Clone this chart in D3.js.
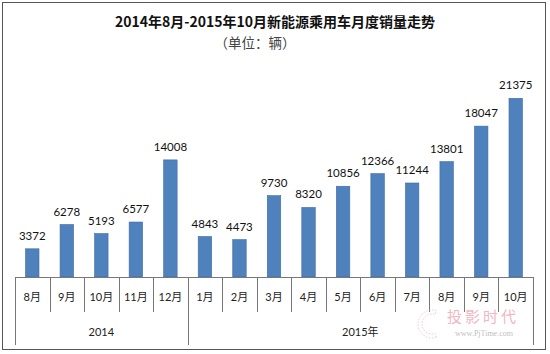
<!DOCTYPE html>
<html>
<head>
<meta charset="utf-8">
<script src="https://cdn.jsdelivr.net/npm/d3@7"></script>
<style>
  body { margin: 0; background: #fff; }
  svg text { font-family: Lato, "Noto Sans CJK SC", sans-serif; }
</style>
</head>
<body>
<svg id="chart" width="550" height="354"></svg>
<script>
// données
const months = ['8月', '9月', '10月', '11月', '12月', '1月', '2月', '3月', '4月', '5月', '6月', '7月', '8月', '9月', '10月'];
const sales = [3372, 6278, 5193, 6577, 14008, 4843, 4473, 9730, 8320, 10856, 12366, 11244, 13801, 18047, 21375];
const years = [
    { label: '2014', from: 0, to: 4 },
    { label: '2015年', from: 5, to: 14 }
];

const svg = d3.select('#chart');

// cadre du graphique
svg.append('rect')
   .attr('x', 2.5).attr('y', 2.5)
   .attr('width', 543).attr('height', 347)
   .attr('fill', '#fff')
   .attr('stroke', '#555')
   .attr('stroke-width', 1);

// titres
svg.append('text')
   .attr('x', 275).attr('y', 27)
   .attr('text-anchor', 'middle')
   .style('font-family', '"Noto Sans CJK SC", sans-serif')
   .style('font-size', '14px')
   .style('font-weight', 'bold')
   .attr('fill', '#111')
   .text('2014年8月-2015年10月新能源乘用车月度销量走势');

svg.append('text')
   .attr('x', 255).attr('y', 48)
   .attr('text-anchor', 'middle')
   .style('font-family', '"Noto Sans CJK SC", sans-serif')
   .style('font-size', '13.5px')
   .attr('fill', '#444')
   .text('（单位：辆）');

const x = d3.scaleBand()
            .domain(d3.range(months.length))
            .range([15, 533])
            .padding(0);

const y = d3.scaleLinear()
            .domain([0, 25000])
            .range([277, 68]);

const barW = x.bandwidth() * 0.39;

// barres
svg.append('g')
   .selectAll('rect')
   .data(sales)
   .join('rect')
   .attr('x', (d, i) => x(i) + (x.bandwidth() - barW) / 2)
   .attr('y', d => y(d))
   .attr('width', barW)
   .attr('height', d => y(0) - y(d))
   .attr('fill', '#4f81bd')
   .attr('stroke', '#3d6ca3')
   .attr('stroke-width', 0.6);

// étiquettes de valeurs
svg.append('g')
   .selectAll('text')
   .data(sales)
   .join('text')
   .attr('x', (d, i) => x(i) + x.bandwidth() / 2)
   .attr('y', d => y(d) - 9)
   .attr('text-anchor', 'middle')
   .style('font-size', '11.5px')
   .attr('fill', '#111')
   .text(d => d);

// axe horizontal
const axis = svg.append('g').attr('stroke', '#777').attr('stroke-width', 1);
axis.append('line')
    .attr('x1', 15).attr('x2', 533)
    .attr('y1', 277.5).attr('y2', 277.5);

// séparateurs des mois
const bounds = d3.range(months.length + 1).map(i => i < months.length ? x(i) : x(i - 1) + x.bandwidth());
axis.selectAll('line.tick')
    .data(bounds)
    .join('line')
    .attr('class', 'tick')
    .attr('x1', d => Math.round(d) + 0.5).attr('x2', d => Math.round(d) + 0.5)
    .attr('y1', 277).attr('y2', 312);

// séparateurs des années
const yearBounds = [0, 5, 15];
axis.selectAll('line.year')
    .data(yearBounds)
    .join('line')
    .attr('class', 'year')
    .attr('x1', d => Math.round(bounds[d]) + 0.5).attr('x2', d => Math.round(bounds[d]) + 0.5)
    .attr('y1', 277).attr('y2', 345);

// libellés des mois
svg.append('g')
   .selectAll('text')
   .data(months)
   .join('text')
   .attr('x', (d, i) => x(i) + x.bandwidth() / 2)
   .attr('y', 301)
   .attr('text-anchor', 'middle')
   .style('font-size', '11px')
   .attr('fill', '#222')
   .text(d => d);

// libellés des années
svg.append('g')
   .selectAll('text')
   .data(years)
   .join('text')
   .attr('x', d => (bounds[d.from] + bounds[d.to + 1]) / 2)
   .attr('y', 336)
   .attr('text-anchor', 'middle')
   .style('font-size', '11px')
   .attr('fill', '#222')
   .text(d => d.label);

// filigrane
const wm = svg.append('g').attr('opacity', 0.75);
wm.append('path')
  .attr('d', d3.arc()({ innerRadius: 10, outerRadius: 14, startAngle: Math.PI * 0.9, endAngle: Math.PI * 2.1 }))
  .attr('transform', 'translate(432,324)')
  .attr('fill', 'none')
  .attr('stroke', '#f2b6c0')
  .attr('stroke-dasharray', '1.5,1.5');
wm.append('text')
  .attr('x', 483).attr('y', 322)
  .attr('text-anchor', 'middle')
  .style('font-family', '"Noto Sans CJK SC", sans-serif')
  .style('font-size', '15px')
  .style('letter-spacing', '3px')
  .attr('fill', '#eea0ae')
  .text('投影时代');
wm.append('text')
  .attr('x', 484).attr('y', 336)
  .attr('text-anchor', 'middle')
  .style('font-family', '"Liberation Serif", serif')
  .style('font-size', '8px')
  .attr('fill', '#aaa')
  .text('www.PjTime.com');
</script>
</body>
</html>
